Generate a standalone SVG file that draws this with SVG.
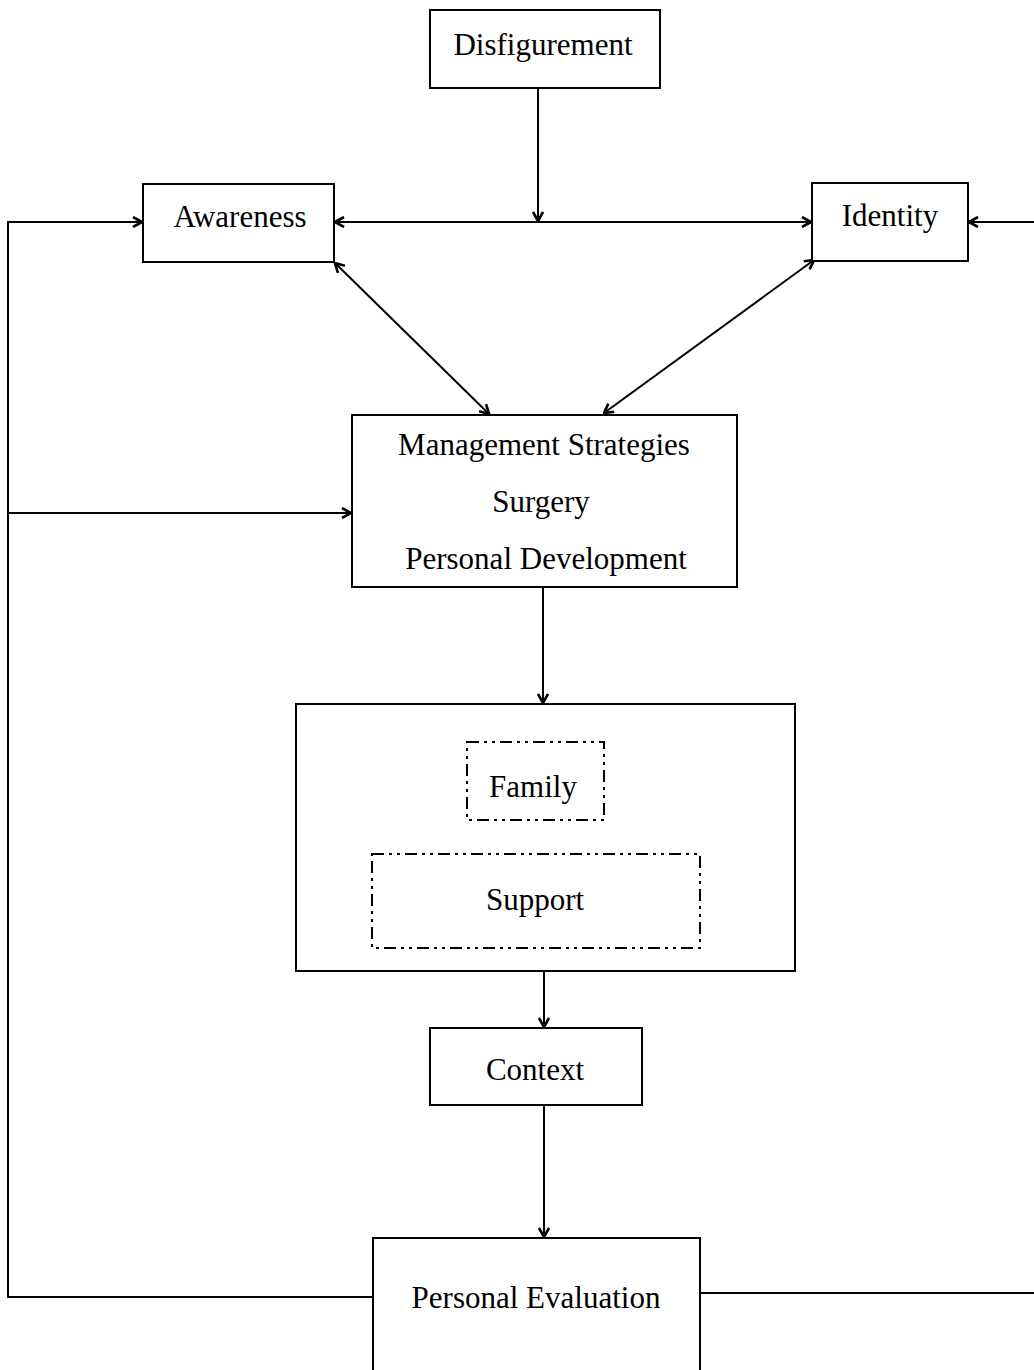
<svg xmlns="http://www.w3.org/2000/svg" width="1034" height="1370" viewBox="0 0 1034 1370">
<defs>
<style>
.box{fill:#fff;stroke:#000;stroke-width:2}
.dash{fill:none;stroke:#000;stroke-width:2;stroke-dasharray:12 5 3 5 3 5}
.ln{fill:none;stroke:#000;stroke-width:2}
text{font-family:"Liberation Serif","Times New Roman",serif;font-size:31px;fill:#000;text-anchor:middle}
</style>
<marker id="ah" viewBox="0 0 12 12" refX="11" refY="6" markerWidth="12" markerHeight="12" markerUnits="userSpaceOnUse" orient="auto-start-reverse">
<path d="M2,1 L11,6 L2,11" fill="none" stroke="#000" stroke-width="2.6"/>
</marker>
</defs>
<rect width="1034" height="1370" fill="#fff"/>
<g id="connectors">
<line class="ln" x1="538" y1="88" x2="538" y2="221" marker-end="url(#ah)"/>
<line class="ln" x1="335" y1="222" x2="811" y2="222" marker-start="url(#ah)" marker-end="url(#ah)"/>
<line class="ln" x1="1034" y1="222" x2="969" y2="222" marker-end="url(#ah)"/>
<line class="ln" x1="335" y1="263" x2="489" y2="414" marker-start="url(#ah)" marker-end="url(#ah)"/>
<line class="ln" x1="814" y1="260" x2="604" y2="413" marker-start="url(#ah)" marker-end="url(#ah)"/>
<polyline class="ln" points="373,1297 8,1297 8,222 142,222" marker-end="url(#ah)"/>
<line class="ln" x1="8" y1="513" x2="351" y2="513" marker-end="url(#ah)"/>
<line class="ln" x1="543" y1="587" x2="543" y2="703" marker-end="url(#ah)"/>
<line class="ln" x1="544" y1="971" x2="544" y2="1027" marker-end="url(#ah)"/>
<line class="ln" x1="544" y1="1105" x2="544" y2="1237" marker-end="url(#ah)"/>
<line class="ln" x1="700" y1="1293" x2="1034" y2="1293"/>
</g>
<g id="disfigurement"><rect class="box" x="430" y="10" width="230" height="78"/><text x="543" y="55">Disfigurement</text></g>
<g id="awareness"><rect class="box" x="143" y="184" width="191" height="78"/><text x="240" y="227">Awareness</text></g>
<g id="identity"><rect class="box" x="812" y="183" width="156" height="78"/><text x="890" y="226">Identity</text></g>
<g id="management"><rect class="box" x="352" y="415" width="385" height="172"/>
<text x="544" y="455">Management Strategies</text>
<text x="541" y="512">Surgery</text>
<text x="546" y="569">Personal Development</text></g>
<g id="context-group"><rect class="box" x="296" y="704" width="499" height="267"/></g>
<g id="family"><rect class="dash" x="467" y="742" width="137" height="78"/><text x="533" y="797">Family</text></g>
<g id="support"><rect class="dash" x="372" y="854" width="328" height="94"/><text x="535" y="910">Support</text></g>
<g id="context"><rect class="box" x="430" y="1028" width="212" height="77"/><text x="535" y="1080">Context</text></g>
<g id="evaluation"><rect class="box" x="373" y="1238" width="327" height="140"/><text x="536" y="1308">Personal Evaluation</text></g>
</svg>
